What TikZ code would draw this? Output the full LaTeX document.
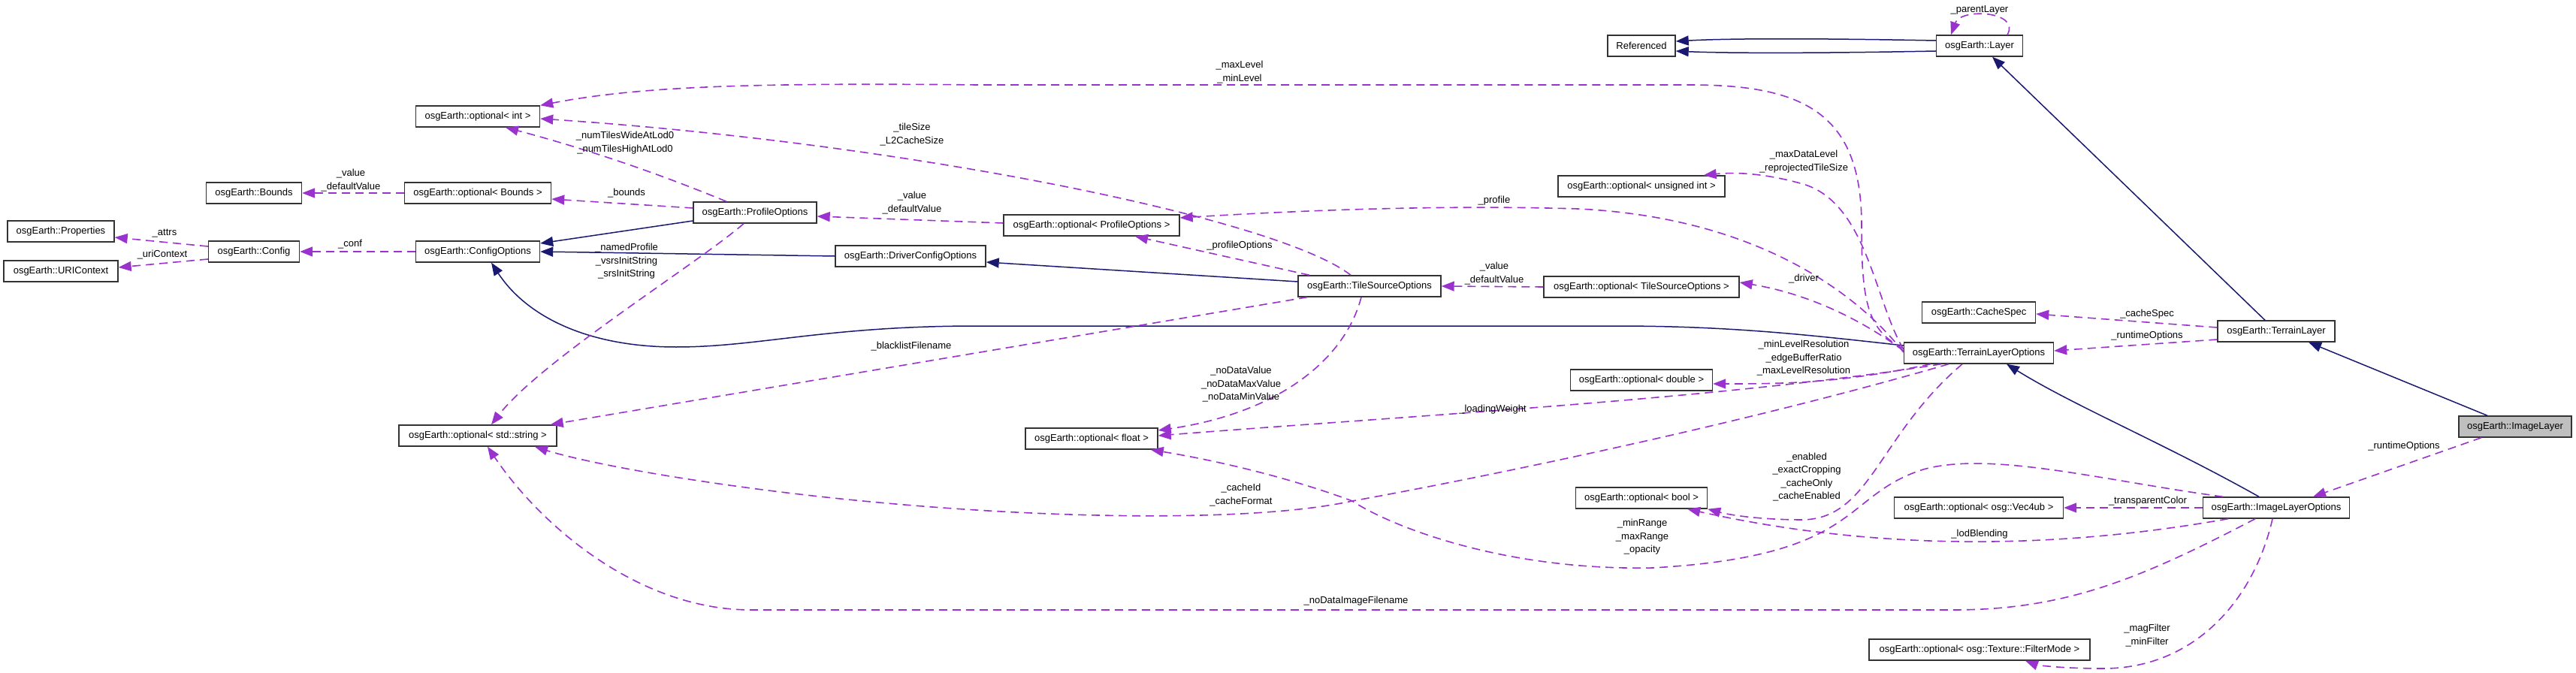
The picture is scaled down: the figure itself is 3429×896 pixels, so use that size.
\documentclass[tikz,border=0pt]{standalone}
\usepackage{fontspec}
\setmainfont{Liberation Sans}
\usetikzlibrary{arrows.meta}
\definecolor{inhblue}{HTML}{191970}
\definecolor{usepurple}{HTML}{9A32CD}

\begin{document}
\begin{tikzpicture}[x=1pt,y=-1pt,
  cls/.style={draw=black!80, line width=1.4pt, fill=white, minimum height=28pt, inner sep=0pt, font=\fontsize{13}{16}\selectfont},
  inh/.style={draw=inhblue, line width=1.5pt, -{Triangle[length=17pt,width=13pt]}},
  use/.style={draw=usepurple, line width=1.6pt, dash pattern=on 11pt off 7pt, -{Triangle[length=17pt,width=13pt]}},
  lbl/.style={font=\fontsize{13}{17.5}\selectfont, align=center, inner sep=0pt}]
  \useasboundingbox (0,0) rectangle (3429,896);

  % Draw the classes
  \node[cls, minimum width=142pt] (props) at (81,308) {osgEarth::Properties};
  \node[cls, minimum width=152pt] (uric) at (81,361) {osgEarth::URIContext};
  \node[cls, minimum width=121pt] (config) at (338,335) {osgEarth::Config};
  \node[cls, minimum width=127pt] (bounds) at (338,257) {osgEarth::Bounds};
  \node[cls, minimum width=165pt] (optint) at (636,155) {osgEarth::optional< int >};
  \node[cls, minimum width=195pt] (optbounds) at (636,257) {osgEarth::optional< Bounds >};
  \node[cls, minimum width=165pt] (cfgopt) at (636,335) {osgEarth::ConfigOptions};
  \node[cls, minimum width=210pt] (optstr) at (636,580) {osgEarth::optional< std::string >};
  \node[cls, minimum width=164pt] (profopt) at (1005,283) {osgEarth::ProfileOptions};
  \node[cls, minimum width=200pt] (drvopt) at (1212,341) {osgEarth::DriverConfigOptions};
  \node[cls, minimum width=234pt] (optprof) at (1453,300) {osgEarth::optional< ProfileOptions >};
  \node[cls, minimum width=176pt] (optfloat) at (1453,584) {osgEarth::optional< float >};
  \node[cls, minimum width=190pt] (tsopt) at (1823,381) {osgEarth::TileSourceOptions};
  \node[cls, minimum width=260pt] (optts) at (2185,382) {osgEarth::optional< TileSourceOptions >};
  \node[cls, minimum width=222pt] (optuint) at (2185,248) {osgEarth::optional< unsigned int >};
  \node[cls, minimum width=189pt] (optdbl) at (2185,506) {osgEarth::optional< double >};
  \node[cls, minimum width=175pt] (optbool) at (2185,663) {osgEarth::optional< bool >};
  \node[cls, minimum width=90pt] (ref) at (2185,61) {Referenced};
  \node[cls, minimum width=115pt] (layer) at (2635,61) {osgEarth::Layer};
  \node[cls, minimum width=151pt] (cachespec) at (2634,416) {osgEarth::CacheSpec};
  \node[cls, minimum width=199pt] (tlopt) at (2634,470) {osgEarth::TerrainLayerOptions};
  \node[cls, minimum width=225pt] (vec4) at (2634,676) {osgEarth::optional< osg::Vec4ub >};
  \node[cls, minimum width=294pt] (filt) at (2635,865) {osgEarth::optional< osg::Texture::FilterMode >};
  \node[cls, minimum width=156pt] (tlayer) at (3030,441) {osgEarth::TerrainLayer};
  \node[cls, minimum width=195pt] (ilopt) at (3030,676) {osgEarth::ImageLayerOptions};
  \node[cls, minimum width=150pt, fill=black!25] (ilayer) at (3348,568) {osgEarth::ImageLayer};

  % Draw inheritance
  \draw[inh] ([yshift=7pt]layer.west) .. controls (2420,51) and (2300,51) .. ([yshift=6pt]ref.east);
  \draw[inh] ([yshift=-7pt]layer.west) .. controls (2420,71) and (2300,71) .. ([yshift=-7pt]ref.east);
  \draw[inh] ([xshift=-15pt]tlayer.north) -- ([xshift=17pt]layer.south);
  \draw[inh] ([xshift=-37pt]ilayer.north) -- ([xshift=43pt]tlayer.south);
  \draw[inh] ([xshift=-23pt]ilopt.north) .. controls (2880,590) and (2760,540) .. ([xshift=37pt]tlopt.south);
  \draw[inh] ([yshift=10pt]tlopt.west) .. controls (2400,445) and (2300,434) .. (2150,434) -- (1300,434)
    .. controls (1100,434) and (1010,462) .. (900,462) .. controls (780,462) and (700,420) .. ([xshift=18pt]cfgopt.south);
  \draw[inh] (drvopt.west) -- (cfgopt.east);
  \draw[inh] ([yshift=-11pt]profopt.west) -- ([yshift=11pt]cfgopt.east);
  \draw[inh] ([yshift=6pt]tsopt.west) -- ([yshift=-8pt]drvopt.east);

  % Draw members
  \draw[use] ([yshift=7pt]config.west) -- ([yshift=-8pt]props.east);
  \draw[use] ([yshift=-10pt]config.west) -- ([yshift=5pt]uric.east);
  \draw[use] (cfgopt.west) -- (config.east);
  \draw[use] (optbounds.west) -- (bounds.east);
  \draw[use] ([yshift=6pt]profopt.west) -- ([yshift=-8pt]optbounds.east);
  \draw[use] ([xshift=-38pt]profopt.north) .. controls (850,220) and (750,190) .. ([xshift=37pt]optint.south);
  \draw[use] ([xshift=-15pt]profopt.south) .. controls (930,350) and (720,480) .. ([xshift=18pt]optstr.north);
  \draw[use] ([yshift=3pt]optprof.west) -- ([yshift=-5pt]profopt.east);
  \draw[use] ([xshift=-80pt]tsopt.north) -- ([xshift=58pt]optprof.south);
  \draw[use] ([xshift=-25pt]tsopt.north) .. controls (1700,290) and (1200,190) .. ([yshift=-3pt]optint.east);
  \draw[use] ([xshift=-83pt]tsopt.south) -- ([xshift=-9pt]optstr.north east);
  \draw[use] ([xshift=-11pt]tsopt.south) .. controls (1790,480) and (1700,550) .. ([yshift=11pt]optfloat.east);
  \draw[use] (optts.west) -- (tsopt.east);
  \draw[use] ([yshift=3pt]tlopt.west) .. controls (2470,420) and (2400,390) .. ([yshift=6pt]optts.east);
  \draw[use] ([yshift=1pt]tlopt.west) .. controls (2480,400) and (2350,290) .. (2100,278)
    .. controls (1900,272) and (1700,282) .. ([yshift=10pt]optprof.east);
  \draw[use] ([yshift=6pt]tlopt.west) .. controls (2485,440) and (2478,400) .. (2478,300)
    .. controls (2478,150) and (2400,113) .. (2250,113) -- (1300,113) .. controls (1000,110) and (850,115) .. (optint.north east);
  \draw[use] ([yshift=5pt]tlopt.west) .. controls (2495,400) and (2485,270) .. (2400,245)
    .. controls (2340,228) and (2300,230) .. ([xshift=-29pt]optuint.north east);
  \draw[use] ([xshift=-64pt]tlopt.south) .. controls (2450,510) and (2380,511) .. ([yshift=-5pt]optdbl.east);
  \draw[use] ([xshift=-50pt]tlopt.south) .. controls (2300,530) and (1900,552) .. ([yshift=4pt]optfloat.east);
  \draw[use] ([xshift=-40pt]tlopt.south) .. controls (2300,570) and (1950,640) .. (1800,667)
    .. controls (1650,700) and (1300,690) .. (1000,650) .. controls (850,630) and (760,610) .. ([xshift=76pt]optstr.south);
  \draw[use] ([xshift=-22pt]tlopt.south) .. controls (2500,580) and (2490,690) .. (2400,692)
    .. controls (2340,692) and (2300,685) .. (optbool.south east);
  \draw[use] ([xshift=-64pt]ilopt.south) .. controls (2800,720) and (2550,745) .. ([xshift=-27pt]optbool.south east);
  \draw[use] ([xshift=-71pt]ilopt.north) .. controls (2800,640) and (2650,600) .. (2560,625)
    .. controls (2450,660) and (2480,740) .. (2200,756) .. controls (2000,760) and (1850,700) .. (1800,667)
    .. controls (1700,630) and (1600,610) .. ([xshift=-10pt]optfloat.south east);
  \draw[use] (ilopt.west) -- (vec4.east);
  \draw[use] ([xshift=-5pt]ilopt.south) .. controls (3000,800) and (2920,890) .. (2800,890)
    .. controls (2740,890) and (2710,885) .. ([xshift=61pt]filt.south);
  \draw[use] ([xshift=-28pt]ilopt.south) .. controls (2850,770) and (2750,812) .. (2600,812) -- (1000,812)
    .. controls (850,812) and (720,700) .. ([xshift=13pt]optstr.south);
  \draw[use] ([xshift=-45pt]ilayer.south) -- ([xshift=49pt]ilopt.north);
  \draw[use] ([yshift=5pt]tlayer.west) -- ([yshift=-2pt]cachespec.east);
  \draw[use] ([yshift=-11pt]tlayer.west) -- ([yshift=3pt]tlopt.east);
  \draw[use] ([xshift=37pt]layer.north) .. controls (2690,15) and (2610,10) .. ([xshift=-38pt]layer.north);

  % Draw the member names
  \node[lbl] (lAttrs) at (219,311) {\_attrs};
  \node[lbl] (lUri) at (216,339) {\_uriContext};
  \node[lbl] (lConf) at (466,325) {\_conf};
  \node[lbl] (lBndVal) at (467,240) {\_value\\\_defaultValue};
  \node[lbl] (lBounds) at (834,257) {\_bounds};
  \node[lbl] (lNumTiles) at (832,190) {\_numTilesWideAtLod0\\\_numTilesHighAtLod0};
  \node[lbl] (lNamed) at (834,348) {\_namedProfile\\\_vsrsInitString\\\_srsInitString};
  \node[lbl] (lTileSize) at (1214,179) {\_tileSize\\\_L2CacheSize};
  \node[lbl] (lProfVal) at (1214,270) {\_value\\\_defaultValue};
  \node[lbl] (lMaxLevel) at (1650,96) {\_maxLevel\\\_minLevel};
  \node[lbl] (lProfOpt) at (1650,327) {\_profileOptions};
  \node[lbl] (lProfile) at (1989,267) {\_profile};
  \node[lbl] (lTsVal) at (1989,364) {\_value\\\_defaultValue};
  \node[lbl] (lDriver) at (2401,371) {\_driver};
  \node[lbl] (lMaxData) at (2401,215) {\_maxDataLevel\\\_reprojectedTileSize};
  \node[lbl] (lBlack) at (1213,461) {\_blacklistFilename};
  \node[lbl] (lNoData) at (1652,512) {\_noDataValue\\\_noDataMaxValue\\\_noDataMinValue};
  \node[lbl] (lLevelRes) at (2401,477) {\_minLevelResolution\\\_edgeBufferRatio\\\_maxLevelResolution};
  \node[lbl] (lLoading) at (1987,545) {\_loadingWeight};
  \node[lbl] (lCacheId) at (1652,659) {\_cacheId\\\_cacheFormat};
  \node[lbl] (lEnabled) at (2405,635) {\_enabled\\\_exactCropping\\\_cacheOnly\\\_cacheEnabled};
  \node[lbl] (lRange) at (2186,715) {\_minRange\\\_maxRange\\\_opacity};
  \node[lbl] (lNoDataImg) at (1805,800) {\_noDataImageFilename};
  \node[lbl] (lCacheSpec) at (2858,418) {\_cacheSpec};
  \node[lbl] (lRuntimeT) at (2858,447) {\_runtimeOptions};
  \node[lbl] (lRuntimeI) at (3200,594) {\_runtimeOptions};
  \node[lbl] (lTransp) at (2859,667) {\_transparentColor};
  \node[lbl] (lLod) at (2635,711) {\_lodBlending};
  \node[lbl] (lFilter) at (2858,846) {\_magFilter\\\_minFilter};
  \node[lbl] (lParent) at (2635,13) {\_parentLayer};
\end{tikzpicture}
\end{document}
